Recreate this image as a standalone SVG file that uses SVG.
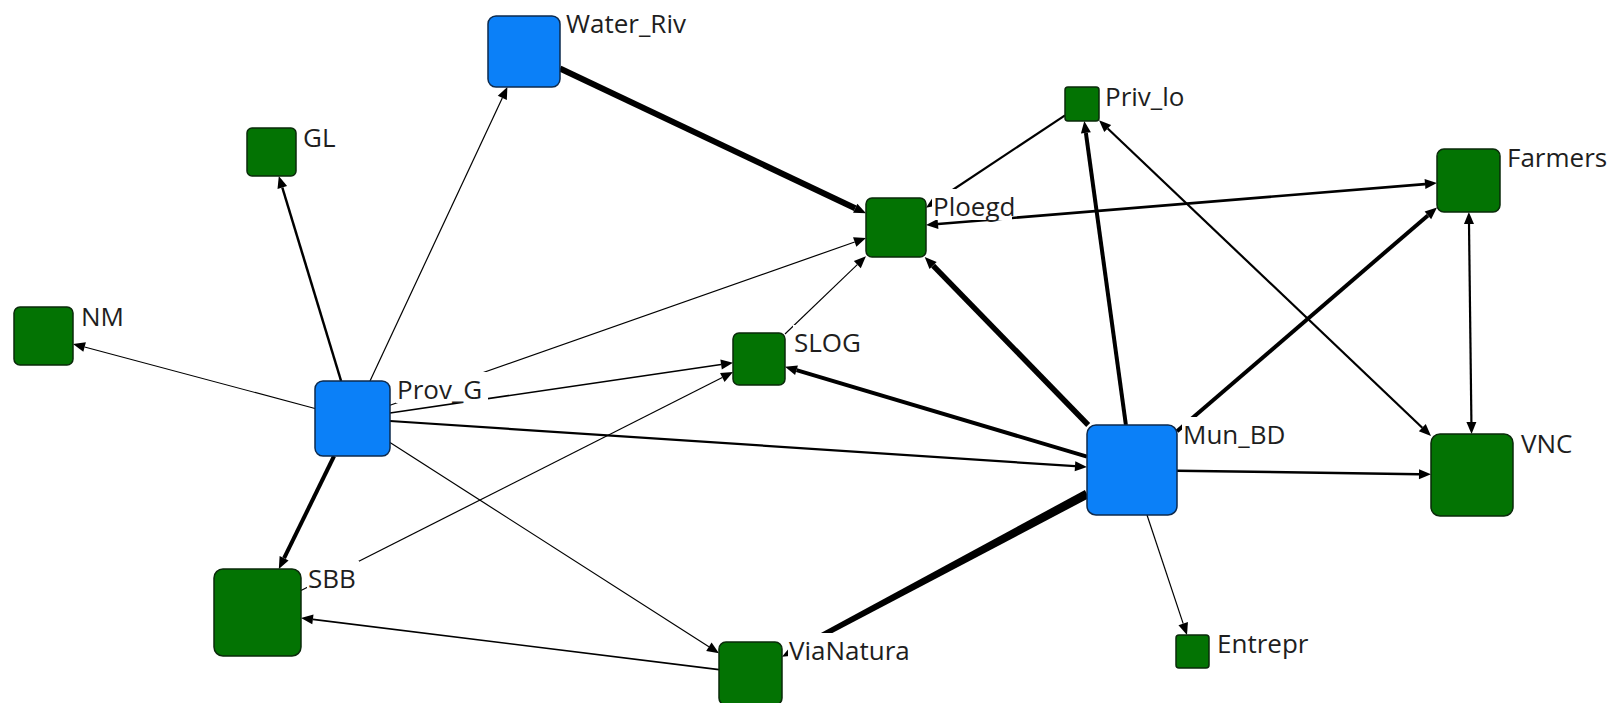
<svg xmlns="http://www.w3.org/2000/svg" width="1617" height="703" viewBox="0 0 1617 703">
  <defs>
    <style>
      .bg { fill: #ffffff; }
      .edge { stroke: #000000; fill: none; stroke-linecap: butt; }
      .blue { fill: #0b80f8; stroke: #0d2a4d; stroke-width: 1.5; }
      .green { fill: #037303; stroke: #0a2a0a; stroke-width: 1.5; }
      .lblbg { fill: #ffffff; }
      .lbl { font-family: "Open Sans", "DejaVu Sans", sans-serif; font-size: 26px; fill: #1e1e1e; }
    </style>
    <!-- arrowhead: base sits on the line end, tip points outward -->
    <marker id="arrow" markerUnits="userSpaceOnUse" markerWidth="12" markerHeight="10"
            viewBox="0 0 12 10" refX="0" refY="5" orient="auto-start-reverse" overflow="visible">
      <path d="M0,0 L12,5 L0,10 z" fill="#000000"/>
    </marker>
  </defs>

  <rect class="bg" x="0" y="0" width="1617" height="703"/>

  <g id="connectors">
    <line class="edge" x1="370.0" y1="381.0" x2="502.3" y2="97.9" stroke-width="1.2" marker-end="url(#arrow)"/>
    <line class="edge" x1="341.1" y1="381.0" x2="282.3" y2="187.5" stroke-width="2.5" marker-end="url(#arrow)"/>
    <line class="edge" x1="315.0" y1="408.5" x2="84.6" y2="347.0" stroke-width="1.2" marker-end="url(#arrow)"/>
    <line class="edge" x1="334.1" y1="456.0" x2="284.1" y2="558.2" stroke-width="4" marker-end="url(#arrow)"/>
    <line class="edge" x1="390.0" y1="405.3" x2="854.7" y2="242.0" stroke-width="1.2" marker-end="url(#arrow)"/>
    <line class="edge" x1="390.0" y1="413.0" x2="721.1" y2="364.5" stroke-width="1.6" marker-end="url(#arrow)"/>
    <line class="edge" x1="390.0" y1="421.0" x2="1075.0" y2="466.2" stroke-width="2.2" marker-end="url(#arrow)"/>
    <line class="edge" x1="390.0" y1="442.5" x2="708.9" y2="646.8" stroke-width="1.2" marker-end="url(#arrow)"/>
    <line class="edge" x1="301.0" y1="590.5" x2="722.3" y2="377.5" stroke-width="1.2" marker-end="url(#arrow)"/>
    <line class="edge" x1="719.0" y1="669.6" x2="312.9" y2="619.4" stroke-width="1.6" marker-end="url(#arrow)"/>
    <!-- Mun_BD to ViaNatura: tapered heavy tie -->
    <polygon points="1089.1,498.0 1084.9,490.0 791.4,648.9 793.8,653.3" fill="#000000"/>
    <polygon points="782.0,656.7 795.0,655.5 790.2,646.7" fill="#000000"/>
    <line class="edge" x1="1087.0" y1="456.6" x2="796.5" y2="370.2" stroke-width="4" marker-end="url(#arrow)"/>
    <line class="edge" x1="1088.2" y1="425.0" x2="933.1" y2="265.6" stroke-width="5.5" marker-end="url(#arrow)"/>
    <line class="edge" x1="1125.9" y1="425.0" x2="1085.9" y2="132.9" stroke-width="4" marker-end="url(#arrow)"/>
    <line class="edge" x1="1177.0" y1="431.3" x2="1427.9" y2="215.4" stroke-width="4" marker-end="url(#arrow)"/>
    <line class="edge" x1="1177.0" y1="470.7" x2="1419.0" y2="474.2" stroke-width="2.5" marker-end="url(#arrow)"/>
    <line class="edge" x1="1147.0" y1="515.0" x2="1183.2" y2="623.6" stroke-width="1.2" marker-end="url(#arrow)"/>
    <line class="edge" x1="1107.7" y1="128.5" x2="1422.3" y2="427.7" stroke-width="2.2" marker-start="url(#arrow)" marker-end="url(#arrow)"/>
    <line class="edge" x1="1469.0" y1="224.0" x2="1471.4" y2="422.0" stroke-width="2.2" marker-start="url(#arrow)" marker-end="url(#arrow)"/>
    <line class="edge" x1="938.0" y1="224.0" x2="1425.0" y2="184.1" stroke-width="2.6" marker-start="url(#arrow)" marker-end="url(#arrow)"/>
    <line class="edge" x1="1065.0" y1="115.3" x2="936.0" y2="201.0" stroke-width="2.2" marker-end="url(#arrow)"/>
    <line class="edge" x1="560.0" y1="68.5" x2="855.2" y2="208.2" stroke-width="6" marker-end="url(#arrow)"/>
    <line class="edge" x1="785.0" y1="334.0" x2="857.3" y2="264.6" stroke-width="1.1" marker-end="url(#arrow)"/>
  </g>

  <g id="node-Water_Riv">
    <rect class="blue" x="488" y="16" width="72" height="71" rx="8"/>
    <rect class="lblbg" x="565" y="6" width="127" height="31"/>
    <text class="lbl" x="566" y="33">Water_Riv</text>
  </g>
  <g id="node-GL">
    <rect class="green" x="247" y="128" width="49" height="48" rx="5"/>
    <rect class="lblbg" x="302" y="120" width="34" height="31"/>
    <text class="lbl" x="303" y="147">GL</text>
  </g>
  <g id="node-NM">
    <rect class="green" x="14" y="307" width="59" height="58" rx="6"/>
    <rect class="lblbg" x="80" y="299" width="43" height="31"/>
    <text class="lbl" x="81" y="326">NM</text>
  </g>
  <g id="node-Prov_G">
    <rect class="blue" x="315" y="381" width="75" height="75" rx="8"/>
    <rect class="lblbg" x="396" y="372" width="92" height="31"/>
    <text class="lbl" x="397" y="399">Prov_G</text>
  </g>
  <g id="node-SBB">
    <rect class="green" x="214" y="569" width="87" height="87" rx="9"/>
    <rect class="lblbg" x="307" y="561" width="52" height="31"/>
    <text class="lbl" x="308" y="588">SBB</text>
  </g>
  <g id="node-ViaNatura">
    <rect class="green" x="719" y="642" width="63" height="63" rx="7"/>
    <rect class="lblbg" x="788" y="633" width="120" height="31"/>
    <text class="lbl" x="789" y="660">ViaNatura</text>
  </g>
  <g id="node-SLOG">
    <rect class="green" x="733" y="333" width="52" height="52" rx="6"/>
    <rect class="lblbg" x="793" y="325" width="69" height="31"/>
    <text class="lbl" x="794" y="352">SLOG</text>
  </g>
  <g id="node-Ploegd">
    <rect class="green" x="866" y="198" width="60" height="59" rx="6"/>
    <rect class="lblbg" x="932" y="189" width="80" height="31"/>
    <text class="lbl" x="933" y="216">Ploegd</text>
  </g>
  <g id="node-Priv_lo">
    <rect class="green" x="1065" y="87" width="34" height="34" rx="3"/>
    <rect class="lblbg" x="1104" y="79" width="80" height="31"/>
    <text class="lbl" x="1105" y="106">Priv_lo</text>
  </g>
  <g id="node-Farmers">
    <rect class="green" x="1437" y="149" width="63" height="63" rx="7"/>
    <rect class="lblbg" x="1506" y="140" width="104" height="31"/>
    <text class="lbl" x="1507" y="167">Farmers</text>
  </g>
  <g id="node-Mun_BD">
    <rect class="blue" x="1087" y="425" width="90" height="90" rx="9"/>
    <rect class="lblbg" x="1182" y="417" width="106" height="31"/>
    <text class="lbl" x="1183" y="444">Mun_BD</text>
  </g>
  <g id="node-VNC">
    <rect class="green" x="1431" y="434" width="82" height="82" rx="9"/>
    <rect class="lblbg" x="1520" y="426" width="56" height="31"/>
    <text class="lbl" x="1521" y="453">VNC</text>
  </g>
  <g id="node-Entrepr">
    <rect class="green" x="1176" y="635" width="33" height="33" rx="3"/>
    <rect class="lblbg" x="1216" y="626" width="90" height="31"/>
    <text class="lbl" x="1217" y="653">Entrepr</text>
  </g>
</svg>
